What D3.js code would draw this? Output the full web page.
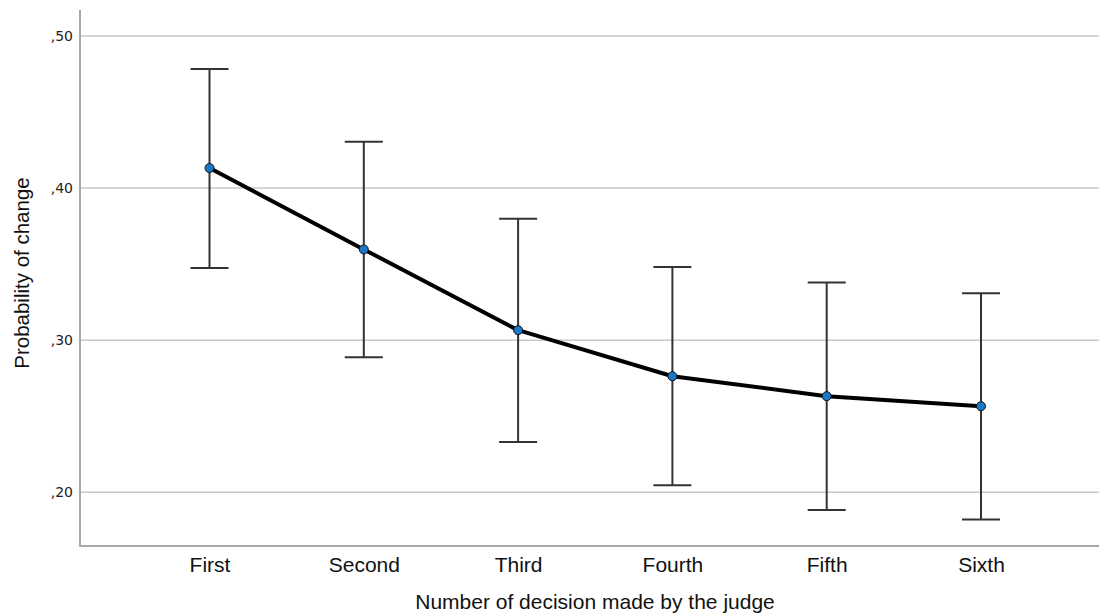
<!DOCTYPE html>
<html><head><meta charset="utf-8">
<script src="https://cdn.jsdelivr.net/npm/d3@7"></script>
<style>body{margin:0;background:#fff;}svg{display:block;}</style>
</head><body><svg id="c" width="1099" height="615"></svg>
<script>
const categories = ["First","Second","Third","Fourth","Fifth","Sixth"];
const means = [0.4132,0.3597,0.3066,0.2763,0.2632,0.2566];
const upper = [0.4783,0.4305,0.3798,0.3482,0.3380,0.3309];
const lower = [0.3474,0.2888,0.2331,0.2046,0.1884,0.1822];
const yTicks = [0.20,0.30,0.40,0.50];
const yTickLabels = [",20",",30",",40",",50"];
const xTitle = "Number of decision made by the judge";
const yTitle = "Probability of change";

(function(){
const svg = d3.select("#c");
const pLeft = 80, pRight = 1099, pTop = 10, pBottom = 546;
const y = d3.scaleLinear().domain([0.1647, 0.5171]).range([pBottom, pTop]);
const x = d3.scalePoint().domain(categories).range([209.5, 981]);

// gridlines
svg.append("g").selectAll("line").data(yTicks).join("line")
  .attr("x1", pLeft).attr("x2", pRight)
  .attr("y1", d => y(d)).attr("y2", d => y(d))
  .attr("stroke", "#c9c9c9").attr("stroke-width", 1.5);

// y axis
const yAxis = d3.axisLeft(y).tickValues(yTicks).tickSize(0).tickPadding(7)
  .tickFormat((d,i) => yTickLabels[i]);
const gy = svg.append("g").attr("transform", `translate(${pLeft},0)`).call(yAxis);
gy.select(".domain").remove();
gy.selectAll("text").attr("font-family", "DejaVu Sans, sans-serif").attr("font-size", 14).attr("fill", "#222");

// x axis
const xAxis = d3.axisBottom(x).tickSize(0).tickPadding(11);
const gx = svg.append("g").attr("transform", `translate(0,${pBottom})`).call(xAxis);
gx.select(".domain").remove();
gx.selectAll("text").attr("font-family", "Liberation Sans, Arial, sans-serif").attr("font-size", 21).attr("fill", "#111").attr("dy", "0.71em");

// axis lines
svg.append("line").attr("x1", pLeft).attr("x2", pLeft).attr("y1", pTop).attr("y2", pBottom)
  .attr("stroke", "#a8a8a8").attr("stroke-width", 2);
svg.append("line").attr("x1", pLeft-1).attr("x2", pRight).attr("y1", pBottom).attr("y2", pBottom)
  .attr("stroke", "#a8a8a8").attr("stroke-width", 2);

// error bars
const eb = svg.append("g").attr("stroke", "#333").attr("stroke-width", 2);
categories.forEach((c,i) => {
  const cx = x(c);
  eb.append("line").attr("x1", cx).attr("x2", cx).attr("y1", y(upper[i])).attr("y2", y(lower[i]));
  eb.append("line").attr("x1", cx-19).attr("x2", cx+19).attr("y1", y(upper[i])).attr("y2", y(upper[i]));
  eb.append("line").attr("x1", cx-19).attr("x2", cx+19).attr("y1", y(lower[i])).attr("y2", y(lower[i]));
});

// mean line
const line = d3.line().x((d,i) => x(categories[i])).y(d => y(d));
svg.append("path").datum(means).attr("d", line)
  .attr("fill", "none").attr("stroke", "#000").attr("stroke-width", 4).attr("stroke-linejoin", "round");

// points
svg.append("g").selectAll("circle").data(means).join("circle")
  .attr("cx", (d,i) => x(categories[i])).attr("cy", d => y(d)).attr("r", 4.5)
  .attr("fill", "#1a78c8").attr("stroke", "#111").attr("stroke-width", 1);

// titles
svg.append("text").attr("x", 595).attr("y", 609).attr("text-anchor", "middle")
  .attr("font-family", "Liberation Sans, Arial, sans-serif").attr("font-size", 21).attr("fill", "#111")
  .text(xTitle);
svg.append("text").attr("transform", "translate(29,273) rotate(-90)").attr("text-anchor", "middle")
  .attr("font-family", "Liberation Sans, Arial, sans-serif").attr("font-size", 20.5).attr("fill", "#111")
  .text(yTitle);
})();
</script></body></html>
